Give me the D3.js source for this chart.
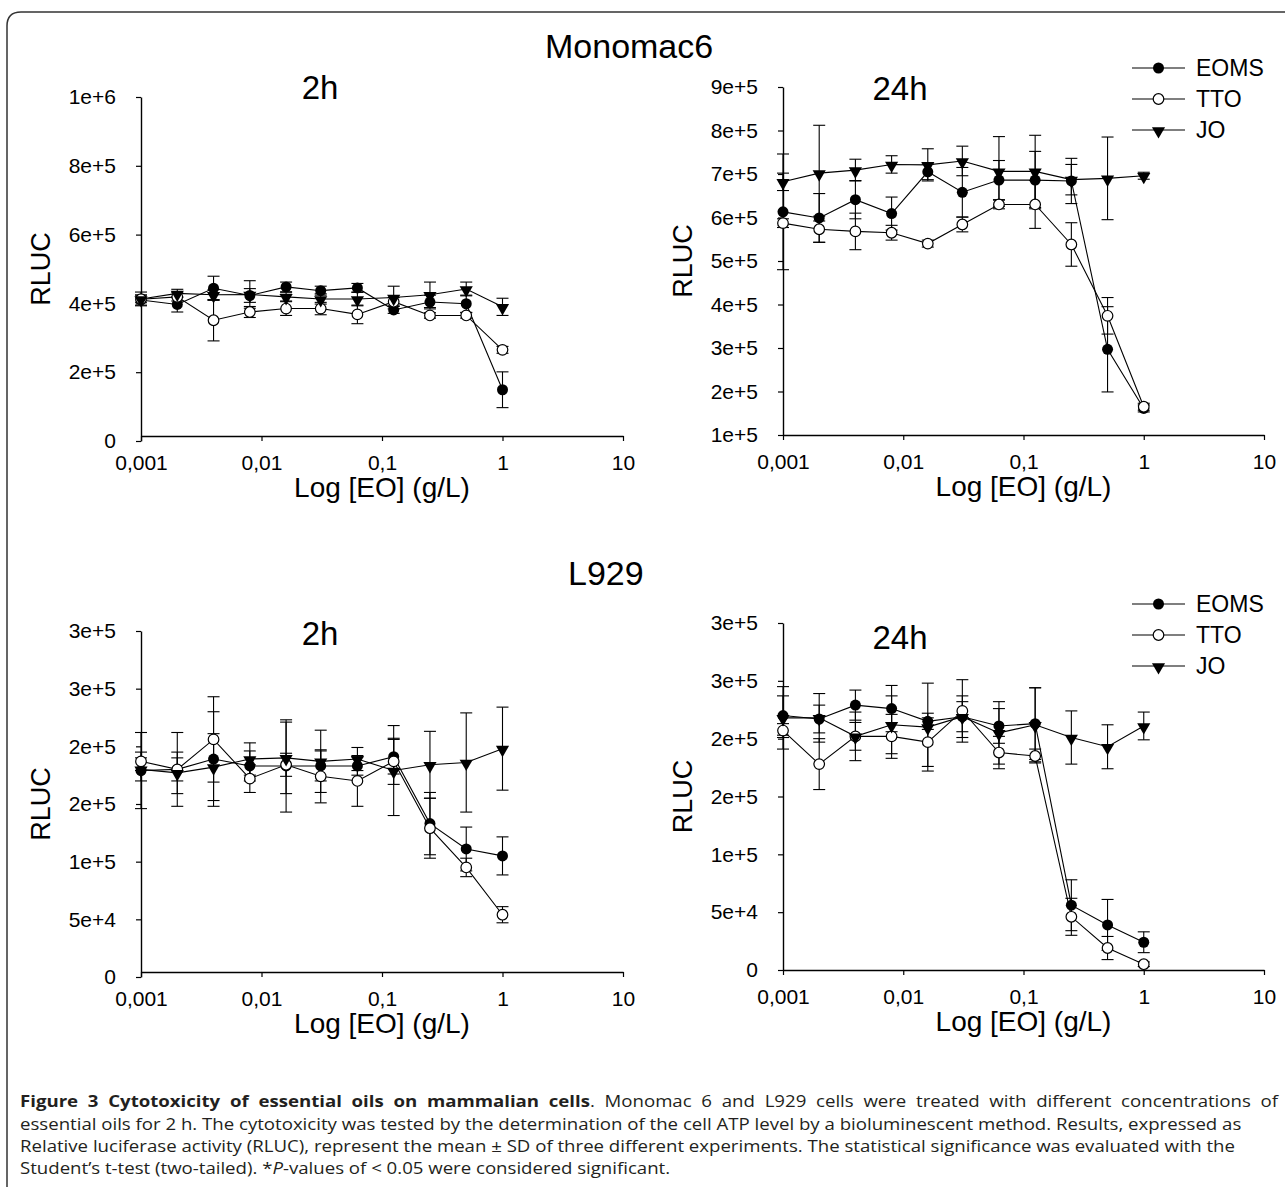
<!DOCTYPE html>
<html><head><meta charset="utf-8">
<script src="https://cdn.jsdelivr.net/npm/d3@7"></script>
<style>body{margin:0;background:#fff}svg{display:block}</style>
</head><body>
<svg id="c" width="1285" height="1187"></svg>
<script>
// ---------- data ----------
const conc = [0.001, 0.002, 0.004, 0.008, 0.016, 0.031, 0.0625, 0.125, 0.25, 0.5, 1];
const seriesNames = ["EOMS", "TTO", "JO"];
const xTickValues = [0.001, 0.01, 0.1, 1, 10];
const xTickLabels = ["0,001", "0,01", "0,1", "1", "10"];

const mono2hYTicks = [0, 200000, 400000, 600000, 800000, 1000000];
const mono2hYLabels = ["0", "2e+5", "4e+5", "6e+5", "8e+5", "1e+6"];
const mono24hYTicks = [100000, 200000, 300000, 400000, 500000, 600000, 700000, 800000, 900000];
const mono24hYLabels = ["1e+5", "2e+5", "3e+5", "4e+5", "5e+5", "6e+5", "7e+5", "8e+5", "9e+5"];
const l929YTicks = [0, 50000, 100000, 150000, 200000, 250000, 300000];
const l929YLabels = ["0", "5e+4", "1e+5", "2e+5", "2e+5", "3e+5", "3e+5"];

// Monomac6, 2h
const mono2hEOMS   = [410000, 397000, 444000, 423000, 448000, 437000, 445000, 381000, 404000, 399000, 149000];
const mono2hEOMSsd = [15000, 22000, 35000, 20000, 14000, 13000, 13000, 10000, 20000, 25000, 52000];
const mono2hTTO    = [412000, 419000, 351000, 375000, 385000, 385000, 368000, 405000, 365000, 365000, 265000];
const mono2hTTOsd  = [10000, 12000, 60000, 16000, 20000, 18000, 27000, 12000, 8000, 8000, 10000];
const mono2hJO     = [413000, 429000, 425000, 426000, 419000, 413000, 413000, 417000, 425000, 442000, 390000];
const mono2hJOsd   = [20000, 12000, 15000, 40000, 12000, 15000, 20000, 33000, 37000, 20000, 25000];

// Monomac6, 24h
const mono24hEOMS   = [613000, 599000, 641000, 609000, 705000, 658000, 686000, 686000, 684000, 297000, 161000];
const mono24hEOMSsd = [133000, 56000, 44000, 38000, 18000, 57000, 45000, 66000, 52000, 98000, 8000];
const mono24hTTO    = [587000, 573000, 568000, 565000, 540000, 584000, 630000, 630000, 538000, 374000, 165000];
const mono24hTTOsd  = [10000, 30000, 42000, 17000, 8000, 17000, 10000, 55000, 50000, 42000, 8000];
const mono24hJO     = [682000, 702000, 709000, 722000, 721000, 730000, 706000, 706000, 687000, 690000, 696000];
const mono24hJOsd   = [20000, 110000, 25000, 20000, 37000, 34000, 80000, 83000, 35000, 95000, 8000];

// L929, 2h
const l9292hEOMS   = [179000, 180000, 189000, 183000, 183000, 183000, 183000, 191000, 133000, 111000, 105000];
const l9292hEOMSsd = [33000, 32000, 41000, 13000, 40000, 13000, 8000, 15000, 27000, 19000, 16500];
const l9292hTTO    = [187000, 180000, 206000, 172000, 184000, 174000, 170000, 187000, 129000, 95000, 54000];
const l9292hTTOsd  = [8000, 10000, 37000, 12000, 10000, 23000, 22000, 20000, 26000, 8000, 7000];
const l9292hJO     = [180000, 177000, 182000, 189000, 190000, 187000, 189000, 179000, 184000, 186000, 198000];
const l9292hJOsd   = [10000, 18000, 29000, 14000, 31000, 27000, 10000, 39000, 29000, 43000, 36000];

// L929, 24h
const l92924hEOMS   = [220000, 217000, 229000, 226000, 215000, 219000, 211000, 213000, 56000, 39000, 24000];
const l92924hEOMSsd = [17000, 12000, 13000, 20000, 7000, 18000, 15000, 31000, 22000, 22000, 9000];
const l92924hTTO    = [207000, 178000, 202000, 202000, 197000, 224000, 188000, 185000, 46000, 19000, 5000];
const l92924hTTOsd  = [6000, 22000, 21000, 19000, 21000, 27000, 14000, 6000, 16000, 10000, 2000];
const l92924hJO     = [218000, 218000, 202000, 212000, 210000, 219000, 205000, 212000, 201000, 193000, 211000];
const l92924hJOsd   = [27000, 21000, 12000, 25000, 38000, 13000, 27000, 32000, 23000, 19000, 12000];

const captionBold = "Figure 3 Cytotoxicity of essential oils on mammalian cells";
const captionLines = [
  ". Monomac 6 and L929 cells were treated with different concentrations of",
  "essential oils for 2 h. The cytotoxicity was tested by the determination of the cell ATP level by a bioluminescent method. Results, expressed as",
  "Relative luciferase activity (RLUC), represent the mean \u00b1 SD of three different experiments. The statistical significance was evaluated with the",
  "Student\u2019s t-test (two-tailed). *P-values of < 0.05 were considered significant."
];

// ---------- drawing ----------
const svg = d3.select("#c");
const FONT = "'Liberation Sans', Arial, sans-serif";

// frame
svg.append("path")
  .attr("d", "M1290,12 L21,12 Q7,12 7,26 L7,1195")
  .attr("fill", "none").attr("stroke", "#333").attr("stroke-width", 1.5);

const panels = [
  {x0:141, x1:623, yBot:441, yTop:97, axisY:436, dom:[0,1000000], ticks:mono2hYTicks, labels:mono2hYLabels,
   series:[[mono2hEOMS,mono2hEOMSsd],[mono2hTTO,mono2hTTOsd],[mono2hJO,mono2hJOsd]], title:"2h", tx:320, ty:87, legend:null},
  {x0:783, x1:1264, yBot:435, yTop:87, axisY:435, dom:[100000,900000], ticks:mono24hYTicks, labels:mono24hYLabels,
   series:[[mono24hEOMS,mono24hEOMSsd],[mono24hTTO,mono24hTTOsd],[mono24hJO,mono24hJOsd]], title:"24h", tx:900, ty:88, legend:68},
  {x0:141, x1:623, yBot:977, yTop:631, axisY:972, dom:[0,300000], ticks:l929YTicks, labels:l929YLabels,
   series:[[l9292hEOMS,l9292hEOMSsd],[l9292hTTO,l9292hTTOsd],[l9292hJO,l9292hJOsd]], title:"2h", tx:320, ty:633, legend:null},
  {x0:783, x1:1264, yBot:970, yTop:623, axisY:970, dom:[0,300000], ticks:l929YTicks, labels:l929YLabels,
   series:[[l92924hEOMS,l92924hEOMSsd],[l92924hTTO,l92924hTTOsd],[l92924hJO,l92924hJOsd]], title:"24h", tx:900, ty:637, legend:604}
];

const tri = d3.symbol().type(d3.symbolTriangle).size(75);
function marker(g, kind, x, y) {
  if (kind === 0) {
    g.append("circle").attr("cx", x).attr("cy", y).attr("r", 5.5).attr("fill", "#000");
  } else if (kind === 1) {
    g.append("circle").attr("cx", x).attr("cy", y).attr("r", 5.3).attr("fill", "#fff").attr("stroke", "#000").attr("stroke-width", 1.2);
  } else {
    g.append("path").attr("d", tri()).attr("transform", `translate(${x},${y + 1}) rotate(180)`).attr("fill", "#000");
  }
}

panels.forEach(p => {
  const g = svg.append("g");
  const x = d3.scaleLog().domain([0.001, 10]).range([p.x0, p.x1]);
  const y = d3.scaleLinear().domain(p.dom).range([p.yBot, p.yTop]);

  const xa = g.append("g").attr("transform", `translate(0,${p.axisY})`)
    .call(d3.axisBottom(x).tickValues(xTickValues).tickFormat((d, i) => xTickLabels[i])
      .tickSize(5).tickSizeOuter(0).tickPadding(14));
  const ya = g.append("g").attr("transform", `translate(${p.x0},0)`)
    .call(d3.axisLeft(y).tickValues(p.ticks).tickFormat((d, i) => p.labels[i])
      .tickSize(5).tickSizeOuter(0).tickPadding(20));
  [xa, ya].forEach(a => {
    a.selectAll("text").attr("font-family", FONT).attr("font-size", 21).attr("fill", "#000");
    a.selectAll("line").attr("stroke", "#000").attr("stroke-width", 1.2);
    a.select(".domain").attr("stroke", "#000").attr("stroke-width", 1.4);
  });

  // error bars
  p.series.forEach(([vals, sds]) => {
    vals.forEach((v, i) => {
      const cx = x(conc[i]), t = y(v + sds[i]), b = y(v - sds[i]);
      g.append("line").attr("x1", cx).attr("x2", cx).attr("y1", t).attr("y2", b).attr("stroke", "#000").attr("stroke-width", 1.1);
      [t, b].forEach(yy => g.append("line").attr("x1", cx - 6).attr("x2", cx + 6).attr("y1", yy).attr("y2", yy).attr("stroke", "#000").attr("stroke-width", 1.1));
    });
  });
  // lines
  const line = d3.line().x((d, i) => x(conc[i])).y(d => y(d));
  p.series.forEach(([vals]) => {
    g.append("path").attr("d", line(vals)).attr("fill", "none").attr("stroke", "#000").attr("stroke-width", 1.1);
  });
  // markers
  p.series.forEach(([vals], k) => vals.forEach((v, i) => marker(g, k, x(conc[i]), y(v))));

  // titles
  g.append("text").attr("x", p.tx).attr("y", p.ty).attr("text-anchor", "middle").attr("dominant-baseline", "central")
    .attr("font-family", FONT).attr("font-size", 33).text(p.title);
  g.append("text").attr("transform", `translate(${p.x0 - 100},${(p.yTop + p.yBot) / 2}) rotate(-90)`)
    .attr("text-anchor", "middle").attr("dominant-baseline", "central")
    .attr("font-family", FONT).attr("font-size", 27).text("RLUC");
  g.append("text").attr("x", (p.x0 + p.x1) / 2).attr("y", p.axisY + 51).attr("text-anchor", "middle").attr("dominant-baseline", "central")
    .attr("font-family", FONT).attr("font-size", 28).text("Log [EO] (g/L)");

  if (p.legend !== null) {
    seriesNames.forEach((name, k) => {
      const ly = p.legend + k * 31;
      g.append("line").attr("x1", 1132).attr("x2", 1185).attr("y1", ly).attr("y2", ly).attr("stroke", "#000").attr("stroke-width", 1.1);
      marker(g, k, 1158.5, ly);
      g.append("text").attr("x", 1196).attr("y", ly).attr("dominant-baseline", "central")
        .attr("font-family", FONT).attr("font-size", 23).text(name);
    });
  }
});

// panel-group titles
svg.append("text").attr("x", 545).attr("y", 46).attr("dominant-baseline", "central")
  .attr("font-family", FONT).attr("font-size", 34).text("Monomac6");
svg.append("text").attr("x", 568).attr("y", 573).attr("dominant-baseline", "central")
  .attr("font-family", FONT).attr("font-size", 34).text("L929");

// caption (horizontally widened glyphs, as in the reference typeface)
const CF = "'Open Sans', 'Noto Sans', sans-serif";
const SX = 1.15;
const capY = [1101, 1124, 1146, 1168];
captionLines.forEach((txt, i) => {
  const t = svg.append("text").attr("x", 0).attr("y", 0)
    .attr("transform", `translate(20,${capY[i]}) scale(${SX},1)`)
    .attr("dominant-baseline", "central")
    .attr("font-family", CF).attr("font-size", 16.2).attr("fill", "#231f20");
  if (i === 0) {
    t.append("tspan").attr("font-weight", "bold").text(captionBold);
    t.append("tspan").text(txt);
    const full = captionBold + txt;
    const nSpaces = (full.match(/ /g) || []).length;
    const w = t.node().getComputedTextLength();
    t.attr("word-spacing", Math.max(0, (1258 / SX - w) / nSpaces));
  } else if (i === 3) {
    const parts = txt.split("P-values");
    t.append("tspan").text(parts[0]);
    t.append("tspan").attr("font-style", "italic").text("P");
    t.append("tspan").text("-values" + parts[1]);
  } else {
    t.text(txt);
  }
});
</script>
</body></html>
